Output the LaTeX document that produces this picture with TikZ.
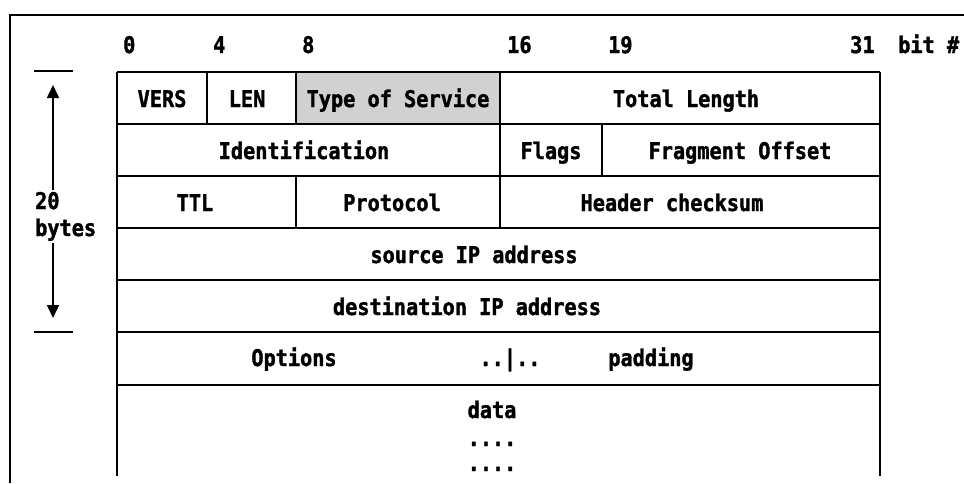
\documentclass[tikz,border=0pt]{standalone}
\usepackage{fontspec}
\usetikzlibrary{arrows.meta}
\newfontfamily\hdrfont{DejaVu Sans Mono}[FakeStretch=0.88, BoldFeatures={FakeBold=1.5}]
\definecolor{tosgray}{gray}{0.82}
\tikzset{
  frameline/.style={line width=1.6pt},
  gridline/.style={line width=1.8pt},
  lbl/.style={inner sep=0pt, anchor=base, font=\hdrfont\bfseries\fontsize{23}{23}\selectfont},
  bitno/.style={lbl, anchor=base west},
  tick/.style={line width=1.6pt},
  sizearrow/.style={line width=1.6pt, -{Triangle[length=13pt,width=12pt]}, shorten >=14pt},
}
\begin{document}
\begin{tikzpicture}[x=1pt,y=-1pt]
\useasboundingbox (0,0) rectangle (964,483);
% page frame (open at right and bottom)
\draw[frameline] (964,15) -- (10,15) -- (10,483);

% bit positions
\node[bitno] (b0)  at (123,53) {0};
\node[bitno] (b4)  at (213,53) {4};
\node[bitno] (b8)  at (302,53) {8};
\node[bitno] (b16) at (507,53) {16};
\node[bitno] (b19) at (608,53) {19};
\node[bitno] (b31) at (850,53) {31};
\node[bitno] (bit) at (898,53) {bit \#};

% shaded Type of Service field
\fill[tosgray] (296,72) rectangle (500,124);

% header grid
\draw[gridline] (117,72) -- (880,72);
\foreach \y in {124,176,228,280,332,385} \draw[gridline] (117,\y) -- (880,\y);
\draw[gridline] (117,72) -- (117,476);
\draw[gridline] (880,72) -- (880,476);
\draw[gridline] (207,72) -- (207,124);
\draw[gridline] (296,72) -- (296,124);
\draw[gridline] (500,72) -- (500,228);
\draw[gridline] (602,124) -- (602,176);
\draw[gridline] (296,176) -- (296,228);

% field names
\node[lbl] (vers)  at (162,107) {VERS};
\node[lbl] (len)   at (247,107) {LEN};
\node[lbl] (tos)   at (398,107) {Type of Service};
\node[lbl] (totl)  at (686,107) {Total Length};
\node[lbl] (ident) at (304,159) {Identification};
\node[lbl] (flags) at (551,159) {Flags};
\node[lbl] (frag)  at (740,159) {Fragment Offset};
\node[lbl] (ttl)   at (195,211) {TTL};
\node[lbl] (proto) at (392,211) {Protocol};
\node[lbl] (hcs)   at (672,211) {Header checksum};
\node[lbl] (src)   at (474,263) {source IP address};
\node[lbl] (dst)   at (467,315) {destination IP address};
\node[lbl] (opt)   at (294,366) {Options};
\node[lbl] (sep)   at (510,366) {..|..};
\node[lbl] (pad)   at (651,366) {padding};
\node[lbl] (data)  at (492,418) {data};
\node[lbl] (dotsA) at (492,446) {....};
\node[lbl] (dotsB) at (492,471) {....};

% header length marker
\coordinate (topTick) at (53,71);
\coordinate (botTick) at (53,332);
\draw[tick] (34,71) -- (73,71);
\draw[tick] (34,332) -- (73,332);
\node[lbl, anchor=base west, align=left, inner sep=2pt,
      font=\hdrfont\bfseries\fontsize{23}{27}\selectfont] (hlen) at (33,236) {20\\bytes};
\draw[sizearrow] (topTick |- hlen.north) -- (topTick);
\draw[sizearrow] (botTick |- hlen.south) -- (botTick);
\end{tikzpicture}
\end{document}
